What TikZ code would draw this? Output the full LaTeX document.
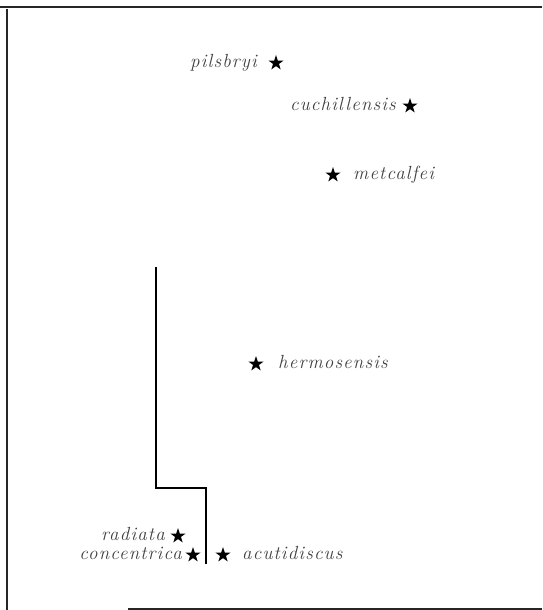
\documentclass[tikz,border=0pt]{standalone}
\usepackage{fontspec}
\newfontfamily\taxonfont{Latin Modern Roman}[LetterSpace=6.0]
\usetikzlibrary{positioning,shapes.geometric}
\tikzset{
  locality/.style={
    star, star points=5, star point ratio=2.6,
    fill=black, draw=none,
    minimum size=16pt, inner sep=0pt
  },
  taxon/.style={
    font=\taxonfont\fontsize{19}{21}\selectfont\itshape,
    text=black!75, inner sep=0pt,
    text height=9pt, text depth=0pt
  },
  frameline/.style={line width=1.5pt, draw=black!85},
  stepline/.style={line width=1.2pt, draw=black}
}
\begin{document}
\begin{tikzpicture}[x=1pt,y=-1pt]
\useasboundingbox (0,0) rectangle (542,610);

% frame
\draw[frameline] (0,7) -- (542,7);
\draw[frameline] (7,9) -- (7,610);
\draw[frameline] (128,609) -- (542,609);

% localities
\node[locality] (pil) at (276,63) {};
\node[locality] (cuc) at (410,106) {};
\node[locality] (met) at (333,175) {};
\node[locality] (her) at (256,364) {};
\node[locality] (rad) at (178,536) {};
\node[locality] (con) at (193,555) {};
\node[locality] (acu) at (223,555) {};

\node[taxon, left=19pt of pil.center] (pilname) {pilsbryi};
\node[taxon, left=14pt of cuc.center] (cucname) {cuchillensis};
\node[taxon, right=20pt of met.center] (metname) {metcalfei};
\node[taxon, right=22pt of her.center] (hername) {hermosensis};
\node[taxon, left=13pt of rad.center] (radname) {radiata};
\node[taxon, left=11pt of con.center] (conname) {concentrica};
\node[taxon, right=19pt of acu.center] (acuname) {acutidiscus};

% boundary
\coordinate (b1) at (156,267);
\coordinate (b2) at (156,488);
\coordinate (b3) at (206,488);
\coordinate (b4) at (206,564);
\draw[stepline] (b1) -- (b2) -- (b3) -- (b4);

\end{tikzpicture}
\end{document}
